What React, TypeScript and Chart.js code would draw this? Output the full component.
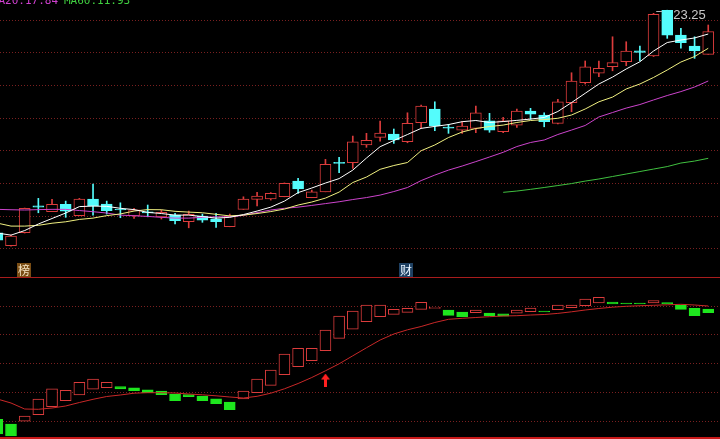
import React, { useEffect, useRef } from 'react';
import Chart from 'chart.js/auto';

// ---- price panel data (daily candles) ----
const openP = [6.24,5.26,6.24,8.30,7.85,8.41,7.54,8.82,8.43,8.05,7.52,7.85,7.46,7.59,7.08,7.52,7.31,6.70,8.03,8.79,8.82,8.99,10.19,8.92,9.37,11.62,11.59,12.95,13.53,13.79,13.20,14.65,15.70,14.32,14.09,14.22,14.80,13.96,14.47,15.54,15.24,14.60,16.18,17.71,18.43,18.93,19.31,20.15,19.75,23.25,21.35,20.51,19.88];
const highP = [6.29,6.06,8.13,8.87,8.79,8.66,8.87,9.96,8.66,8.53,8.11,8.36,7.98,7.72,7.90,7.67,7.72,7.67,8.99,9.33,9.31,10.05,10.40,9.50,11.85,12.00,13.63,13.84,14.78,14.17,15.41,16.00,16.25,14.53,14.73,15.93,15.37,15.06,15.70,15.75,15.41,16.44,18.47,19.37,19.37,21.22,20.84,20.51,23.01,23.25,21.87,21.22,22.12];
const lowP = [5.61,5.22,6.22,7.77,7.85,7.42,7.54,7.59,7.67,7.39,7.34,7.46,7.29,6.91,6.62,7.04,6.65,6.70,8.03,8.30,8.74,8.99,9.25,8.92,9.37,10.83,11.16,12.77,13.25,13.07,13.12,14.22,14.04,13.84,13.84,13.89,13.92,13.89,14.30,14.91,14.34,14.55,15.49,17.61,18.17,18.62,19.01,19.37,19.71,21.10,20.34,19.57,19.88];
const closeP = [5.68,5.99,8.11,8.20,8.41,7.90,8.82,8.30,7.92,7.98,8.00,7.75,7.80,7.16,7.65,7.21,7.08,7.52,8.82,9.05,9.25,10.02,9.60,9.37,11.47,11.55,13.20,13.30,13.86,13.33,14.60,15.93,14.40,14.24,14.40,15.41,14.09,14.80,15.54,15.31,14.73,16.25,17.84,18.93,18.81,19.24,20.13,20.03,22.94,21.35,20.77,20.15,21.61];

const ma5 = [6.22,6.06,6.41,6.91,7.33,7.75,8.24,8.28,8.26,8.11,8.01,7.80,7.71,7.59,7.59,7.48,7.36,7.42,7.63,7.90,8.20,8.66,9.31,9.66,10.04,10.38,11.03,11.95,12.82,13.29,13.75,14.22,14.37,14.51,14.73,14.82,14.67,14.74,14.83,14.93,15.05,15.51,16.19,16.90,17.61,18.14,18.76,19.31,20.13,20.78,20.97,21.13,21.43];
const ma10 = [6.98,6.75,6.75,6.81,6.97,7.08,7.26,7.36,7.55,7.68,7.90,8.01,8.00,7.88,7.82,7.77,7.65,7.53,7.59,7.71,7.86,8.05,8.36,8.59,8.89,9.35,10.08,10.50,11.09,11.38,11.61,12.51,12.95,13.52,13.94,14.21,14.36,14.47,14.67,14.82,14.89,14.99,15.24,15.70,16.25,16.61,17.23,17.61,18.11,18.68,19.29,19.71,20.34];
const ma20 = [8.03,8.00,7.98,8.01,8.03,8.03,7.94,7.85,7.75,7.59,7.54,7.49,7.42,7.36,7.36,7.42,7.46,7.46,7.57,7.78,7.98,8.11,8.20,8.33,8.47,8.61,8.78,8.93,9.12,9.39,9.70,10.23,10.65,11.03,11.34,11.68,12.03,12.39,12.83,13.14,13.33,13.75,14.09,14.44,15.09,15.43,15.77,16.04,16.39,16.73,17.03,17.38,17.84];
const ma60 = [null,null,null,null,null,null,null,null,null,null,null,null,null,null,null,null,null,null,null,null,null,null,null,null,null,null,null,null,null,null,null,null,null,null,null,null,null,9.33,9.43,9.56,9.70,9.85,10.00,10.19,10.35,10.54,10.73,10.92,11.11,11.30,11.57,11.72,11.93];

const priceGrid = [5, 7.5, 10, 12.5, 15, 17.5, 20, 22.5];
const headerMA20 = 'MA20:17.84';
const headerMA60 = 'MA60:11.93';
const highIdx = 49;
const highLabel = '23.25';
const markerIdx = [2, 30];
const markerText = ['榜', '财'];

// ---- indicator panel data ----
const indOpen = [1.2,-2.1,-0.2,4.4,9.9,14.1,18.1,22.1,23.2,23.9,23.0,21.6,20.9,18.8,18.3,17.4,15.5,13.2,15.3,19.7,24.8,32.2,37.8,42.0,48.9,57.5,63.8,69.1,72.6,74.2,75.6,77.7,78.4,77.2,75.8,75.3,75.1,74.6,75.1,76.0,76.5,77.4,78.8,80.2,82.1,82.8,82.1,82.1,82.1,82.3,80.7,78.4,77.9];
const indClose = [-9.0,-10.4,3.5,15.3,22.3,21.4,26.9,29.2,26.9,22.3,21.1,19.7,18.3,14.1,16.9,14.1,12.0,7.9,20.9,29.2,35.5,46.6,50.6,50.6,63.3,73.0,76.5,80.7,80.7,77.7,78.4,82.6,79.1,73.5,72.6,77.2,73.3,73.0,77.2,78.6,75.8,80.7,80.7,84.9,86.1,81.4,81.4,81.4,83.7,81.4,77.7,73.3,75.3];
const indLine = [15.31,12.52,8.35,8.14,9.04,10.44,12.87,15.10,17.04,18.09,19.34,19.69,19.69,19.48,18.78,18.23,17.53,16.70,16.00,17.18,19.34,22.40,26.09,30.26,34.92,39.79,45.36,50.93,56.35,60.53,63.45,65.74,68.53,70.75,71.45,72.00,72.56,73.05,73.26,73.74,74.09,74.86,75.97,77.22,78.27,79.17,79.80,80.21,80.49,80.84,81.19,80.70,80.01];
const indGrid = [0, 20, 40, 60, 80];
const arrowIdx = 24;
const arrowVal = 28.5;

const RED = '#dc3c3c';
const CYAN = '#54fcfc';
const GREEN_BAR = '#1ee61e';
const GRID = '#7a2020';

const X_MIN = 0.195;
const X_MAX = 52.86;

export default function App() {
  const topRef = useRef<HTMLCanvasElement>(null);
  const botRef = useRef<HTMLCanvasElement>(null);

  useEffect(() => {
    const idx = openP.map((_, i) => i);
    const up = idx.map(i => closeP[i] >= openP[i]);

    const xScale = { type: 'linear', min: X_MIN, max: X_MAX, display: false, offset: false, grid: { display: false } } as any;

    const topDecor = {
      id: 'topDecor',
      afterDatasetsDraw(chart: any) {
        const { ctx, scales } = chart;
        const x = scales.x, y = scales.y;
        ctx.save();
        ctx.font = '11px "DejaVu Sans Mono"';
        ctx.textBaseline = 'alphabetic';
        ctx.textAlign = 'right';
        ctx.fillStyle = '#d040d0';
        ctx.fillText(headerMA20, 58, 4);
        ctx.textAlign = 'left';
        ctx.fillStyle = '#40d040';
        ctx.fillText(headerMA60, 64, 4);

        const hx = x.getPixelForValue(highIdx);
        const hy = y.getPixelForValue(highP[highIdx]);
        ctx.strokeStyle = '#b4b4b4';
        ctx.lineWidth = 1;
        ctx.beginPath();
        ctx.moveTo(hx - 11, Math.round(hy) + 1.5);
        ctx.lineTo(hx - 5, Math.round(hy) + 1.5);
        ctx.stroke();
        ctx.fillStyle = '#c8c8c8';
        ctx.font = '13px "Liberation Sans"';
        ctx.textBaseline = 'top';
        ctx.textAlign = 'left';
        ctx.fillText(highLabel, hx + 6, hy - 1);

        const bgs = ['#7a4d14', '#1e4062'];
        const fgs = ['#f4e4c4', '#e8f4ff'];
        markerIdx.forEach((mi, k) => {
          const mx = Math.round(x.getPixelForValue(mi)) - 8;
          ctx.fillStyle = bgs[k % bgs.length];
          ctx.fillRect(mx, 263, 14, 14);
          ctx.fillStyle = fgs[k % fgs.length];
          ctx.font = '12px "Noto Sans CJK SC"';
          ctx.textAlign = 'center';
          ctx.textBaseline = 'middle';
          ctx.fillText(markerText[k], mx + 7, 270);
        });
        ctx.restore();
      },
    };

    const topChart = new Chart(topRef.current!, {
      type: 'bar',
      data: {
        datasets: [
          { type: 'line', data: idx.map(i => ({ x: i, y: ma5[i] })), borderColor: '#ffffff', borderWidth: 1, pointRadius: 0, order: 0 } as any,
          { type: 'line', data: idx.map(i => ({ x: i, y: ma10[i] })), borderColor: '#f0f080', borderWidth: 1, pointRadius: 0, order: 0 } as any,
          { type: 'line', data: idx.map(i => ({ x: i, y: ma20[i] })), borderColor: '#cc44cc', borderWidth: 1, pointRadius: 0, order: 0 } as any,
          { type: 'line', data: idx.filter(i => ma60[i] !== null).map(i => ({ x: i, y: ma60[i] })), borderColor: '#40c040', borderWidth: 1, pointRadius: 0, order: 0 } as any,
          {
            type: 'bar', data: idx.map(i => ({ x: i, y: [openP[i], closeP[i]] })),
            backgroundColor: idx.map(i => (up[i] ? '#000000' : CYAN)),
            borderColor: idx.map(i => (up[i] ? RED : CYAN)),
            borderWidth: 1, borderSkipped: false, barThickness: 11, grouped: false, minBarLength: 1, order: 1,
          } as any,
          {
            type: 'bar', data: idx.map(i => ({ x: i, y: [lowP[i], highP[i]] })),
            backgroundColor: idx.map(i => (up[i] ? RED : CYAN)),
            borderWidth: 0, barThickness: 1, grouped: false, order: 2,
          } as any,
        ],
      },
      options: {
        responsive: false,
        maintainAspectRatio: false,
        animation: false,
        events: [],
        layout: { padding: 0, autoPadding: false },
        plugins: { legend: { display: false }, tooltip: { enabled: false } },
        scales: {
          x: xScale,
          y: {
            type: 'linear', min: 2.86, max: 24.03, beginAtZero: false,
            ticks: { display: false },
            border: { display: false, dash: [1, 2] },
            grid: { color: GRID, lineWidth: 1, drawTicks: false },
            afterBuildTicks: (s: any) => { s.ticks = priceGrid.map(v => ({ value: v })); },
          } as any,
        },
      } as any,
      plugins: [topDecor],
    });

    const arrow = document.createElement('canvas');
    arrow.width = 9;
    arrow.height = 13;
    const a = arrow.getContext('2d')!;
    a.fillStyle = '#ff2020';
    a.beginPath();
    a.moveTo(4.5, 0);
    a.lineTo(9, 6);
    a.lineTo(6, 6);
    a.lineTo(6, 13);
    a.lineTo(3, 13);
    a.lineTo(3, 6);
    a.lineTo(0, 6);
    a.closePath();
    a.fill();

    const indUp = idx.map(i => indClose[i] >= indOpen[i]);
    const botDecor = {
      id: 'botDecor',
      afterDraw(chart: any) {
        const { ctx } = chart;
        ctx.save();
        ctx.fillStyle = '#a81c1c';
        ctx.fillRect(0, 0, 720, 1);
        ctx.fillStyle = '#c81818';
        ctx.fillRect(0, 160, 720, 2);
        ctx.restore();
      },
    };

    const botChart = new Chart(botRef.current!, {
      type: 'bar',
      data: {
        datasets: [
          { type: 'line', data: [{ x: arrowIdx, y: arrowVal }], showLine: false, pointStyle: arrow, pointRadius: 6, order: 0 } as any,
          { type: 'line', data: idx.map(i => ({ x: i, y: indLine[i] })), borderColor: '#c82828', borderWidth: 1, pointRadius: 0, order: 1 } as any,
          {
            type: 'bar', data: idx.map(i => ({ x: i, y: [indOpen[i], indClose[i]] })),
            backgroundColor: idx.map(i => (indUp[i] ? '#000000' : GREEN_BAR)),
            borderColor: idx.map(i => (indUp[i] ? RED : GREEN_BAR)),
            borderWidth: 1, borderSkipped: false, barThickness: 11, grouped: false, minBarLength: 1, order: 2,
          } as any,
        ],
      },
      options: {
        responsive: false,
        maintainAspectRatio: false,
        animation: false,
        events: [],
        layout: { padding: 0, autoPadding: false },
        plugins: { legend: { display: false }, tooltip: { enabled: false } },
        scales: {
          x: xScale,
          y: {
            type: 'linear', min: -12.52, max: 100.18, beginAtZero: false,
            ticks: { display: false },
            border: { display: false, dash: [1, 2] },
            grid: { color: GRID, lineWidth: 1, drawTicks: false },
            afterBuildTicks: (s: any) => { s.ticks = indGrid.map(v => ({ value: v })); },
          } as any,
        },
      } as any,
      plugins: [botDecor],
    });

    return () => {
      topChart.destroy();
      botChart.destroy();
    };
  }, []);

  return (
    <div style={{ position: 'fixed', left: 0, top: 0, width: 720, height: 439, background: '#000', overflow: 'hidden' }}>
      <canvas ref={topRef} width={720} height={277} style={{ position: 'absolute', left: 0, top: 0, width: 720, height: 277 }} />
      <canvas ref={botRef} width={720} height={162} style={{ position: 'absolute', left: 0, top: 277, width: 720, height: 162 }} />
    </div>
  );
}
